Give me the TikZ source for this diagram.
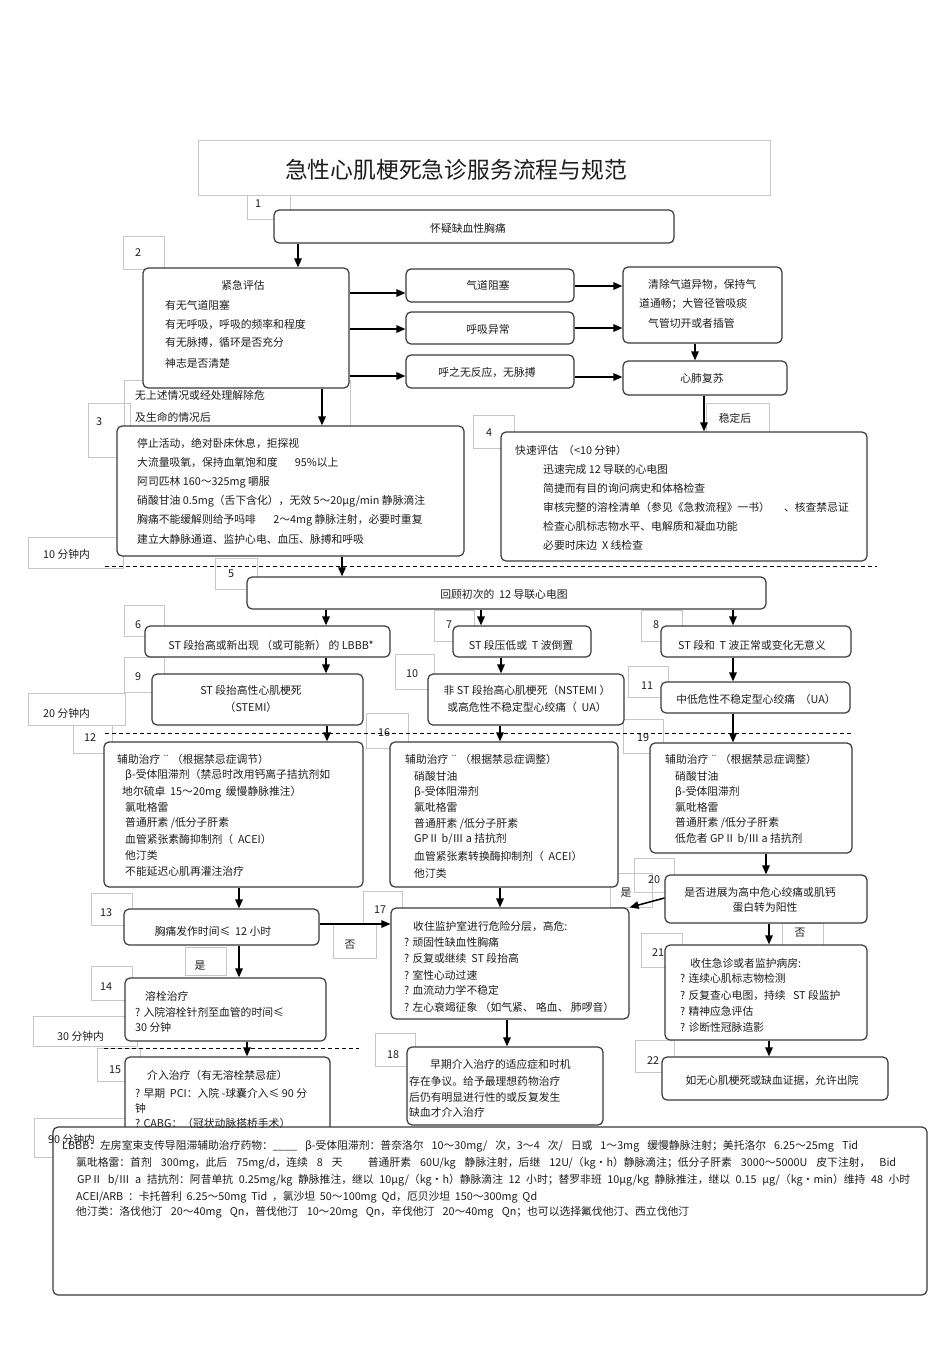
\documentclass[tikz,border=0pt]{standalone}
\usepackage{fontspec}
\setmainfont{Noto Sans CJK SC}
\usetikzlibrary{arrows.meta,fit}
\definecolor{bordc}{HTML}{3A3A3A}
\definecolor{labc}{HTML}{C6C6C6}
\definecolor{txtc}{HTML}{1E1E1E}
\tikzset{
 box/.style={draw=bordc, line width=1.2pt, rounded corners=5pt, fill=white, inner sep=0pt},
 lab/.style={draw=labc, line width=0.6pt, inner sep=0pt},
 txt/.style={font=\fontsize{10.8}{13}\selectfont, text=txtc, inner sep=0pt, anchor=west},
 txm/.style={txt, anchor=center},
 arr/.style={draw=black, line width=1.5pt, -{Triangle[length=9pt,width=7.5pt]}},
 dl/.style={draw=black, line width=0.9pt, dash pattern=on 4pt off 3pt},
}
\begin{document}
\begin{tikzpicture}[x=1pt,y=-1pt]
\useasboundingbox (0,0) rectangle (950,1345);
\fill[white] (0,0) rectangle (950,1345);
% label boxes
\foreach \n/\a/\b/\c/\d in {b1/247/195/290/219, b2/123/236/164/269, b3/88/403/130/457, bw/124/380/350/428,
 b4/473/415/514/448, bs/706/403/769/432, b10m/28/537/123/568, b5/215/558/257/589, b6/124/605/164/636,
 b7/434/610/474/641, b8/641/610/682/641, b9/124/657/164/692, b10/395/654/434/689, b11/628/666/668/697,
 b20m/28/693/125/725, b12/73/725/112/753, b16/366/713/408/748, b19/623/719/663/753, b20/634/858/674/892,
 by1/610/873/652/907, b13/91/893/132/925, b17/363/891/402/923, bn1/333/924/376/958, by2/185/947/226/975,
 b14/91/966/132/1000, bn2/782/923/823/945, b21/641/933/682/967, b30m/33/1016/137/1046, b15/97/1048/140/1081,
 b18/375/1033/415/1066, b22/635/1040/674/1072, b90m/34/1118/140/1157}
 \node[lab, fit={(\a,\b) (\c,\d)}] (\n) {};
% title
\node[lab, fit={(198,140) (770,195)}] (title) {};
% dashed time lines
\draw[dl] (105,566) -- (877,566);
\draw[dl] (105,733) -- (851,733);
\draw[dl] (104,1048) -- (359,1048);
% main boxes
\foreach \n/\a/\b/\c/\d in {n1/274/210/674/243, n2/143/268/349/388, na/406/269/574/302, nb/406/312/574/344,
 nc/406/355/574/388, nd/623/267/782/343, ne/623/361/787/395, n3/117/426/464/556, n4/501/432/867/561,
 n5/247/577/766/609, n6/145/626/390/657, n7/453/626/591/657, n8/661/626/851/657, n9/152/674/363/725,
 n10/428/674/624/725, n11/661/682/850/713, n12/104/742/363/887, n16/390/742/618/887, n19/650/743/852/853,
 n20/665/875/867/923, n13/124/909/319/945, n17/391/908/629/1019, n14/125/978/326/1041, n15/125/1057/330/1150,
 n18/407/1047/603/1125, n21/665/945/867/1040, n22/662/1057/888/1100}
 \node[box, fit={(\a,\b) (\c,\d)}] (\n) {};
% connectors
\draw[arr] (298,0 |- n1.south) -- (298,0 |- n2.north);
\draw[arr] (n2.east |- 0,293) -- (na.west |- 0,293);
\draw[arr] (n2.east |- 0,329) -- (nb.west |- 0,329);
\draw[arr] (n2.east |- 0,376) -- (nc.west |- 0,376);
\draw[arr] (na.east |- 0,286) -- (nd.west |- 0,286);
\draw[arr] (nb.east |- 0,328) -- (nd.west |- 0,328);
\draw[arr] (nc.east |- 0,377) -- (ne.west |- 0,377);
\draw[arr] (695,0 |- nd.south) -- (695,0 |- ne.north);
\draw[arr] (704,0 |- ne.south) -- (704,0 |- n4.north);
\draw[arr] (322,0 |- n2.south) -- (322,0 |- n3.north);
\draw[arr] (342,0 |- n3.south) -- (342,0 |- n5.north);
\draw[arr] (326,0 |- n5.south) -- (326,0 |- n6.north);
\draw[arr] (481,0 |- n5.south) -- (481,0 |- n7.north);
\draw[arr] (733,0 |- n5.south) -- (733,0 |- n8.north);
\draw[arr] (326,0 |- n6.south) -- (326,0 |- n9.north);
\draw[arr] (501,0 |- n7.south) -- (501,0 |- n10.north);
\draw[arr] (733,0 |- n8.south) -- (733,0 |- n11.north);
\draw[arr] (327,0 |- n9.south) -- (327,0 |- n12.north);
\draw[arr] (500,0 |- n10.south) -- (500,0 |- n16.north);
\draw[arr] (733,0 |- n11.south) -- (733,0 |- n19.north);
\draw[arr] (239,0 |- n12.south) -- (239,0 |- n13.north);
\draw[arr] (500,0 |- n16.south) -- (500,0 |- n17.north);
\draw[arr] (766,0 |- n19.south) -- (766,0 |- n20.north);
\draw[arr] (n13.east |- 0,924) -- (n17.west |- 0,924);
\draw[arr] (n20.west |- 0,898) -- (n17.north east);
\draw[arr] (239,0 |- n13.south) -- (239,0 |- n14.north);
\draw[arr] (769,0 |- n20.south) -- (769,0 |- n21.north);
\draw[arr] (507,0 |- n17.south) -- (507,0 |- n18.north);
\draw[arr] (769,0 |- n21.south) -- (769,0 |- n22.north);
\draw[arr] (247,0 |- n14.south) -- (247,0 |- n15.north);
% bottom box drawn over box 15
\node[box, fit={(53,1127) (927,1295)}] (nbot) {};
% title text
\node[font=\fontsize{22.8}{26}\selectfont, text=txtc, inner sep=0pt] (ttl) at (456,170) {急性心肌梗死急诊服务流程与规范};
% step numbers
\foreach \n/\x/\y in {1/258/204, 2/138/253, 3/99/422, 4/489/433, 5/231/574, 6/138/625, 7/449/625, 8/656/625,
 9/138/677, 10/412/674, 11/647/686, 12/90/738, 16/384/733, 19/643/738, 13/106/913, 17/380/910, 14/106/987,
 20/654/880, 21/658/953, 15/115/1070, 18/393/1055, 22/653/1061}
 \node[txm] (num\n) at (\x,\y) {\n};
% small labels
\node[txm] (lst) at (735,418) {稳定后};
\node[txt] (lw1) at (135,395) {无上述情况或经处理解除危};
\node[txt] (lw2) at (135,417) {及生命的情况后};
\node[txt] (l10) at (43,554) {10 分钟内};
\node[txt] (l20) at (43,713) {20 分钟内};
\node[txt] (l30) at (57,1036) {30 分钟内};
\node[txt] (l90) at (48,1139) {90 分钟内};
\node[txm] (ly1) at (626,893) {是};
\node[txm] (ln1) at (350,945) {否};
\node[txm] (ly2) at (200,966) {是};
\node[txm] (ln2) at (800,933) {否};
% box texts
\node[txm] (t1) at (468,228) {怀疑缺血性胸痛};
\node[txm] (t2) at (243,285) {紧急评估};
\foreach \yy/\s [count=\i] in {305/{有无气道阻塞}, 324/{有无呼吸，呼吸的频率和程度}, 343/{有无脉搏，循环是否充分}, 363/{神志是否清楚}}
 \node[txt] (t2-\i) at (165,\yy) {\s};
\node[txm] (ta) at (488,285) {气道阻塞};
\node[txm] (tb) at (488,329) {呼吸异常};
\node[txm] (tc1) at (487,372) {呼之无反应，无脉搏};
\node[txt] (td1) at (648,284) {清除气道异物，保持气};
\node[txt] (td2) at (639,304) {道通畅；大管径管吸痰};
\node[txt] (td3) at (648,323) {气管切开或者插管};
\node[txm] (te) at (702,378) {心肺复苏};
\foreach \yy/\s [count=\i] in {443/{停止活动，绝对卧床休息，拒探视}, 463/{大流量吸氧，保持血氧饱和度\hspace{1.6em}95\%以上},
 482/{阿司匹林 160～325mg 嚼服}, 501/{硝酸甘油 0.5mg（舌下含化），无效 5～20μg/min 静脉滴注},
 520/{胸痛不能缓解则给予吗啡\hspace{1.6em}2～4mg 静脉注射，必要时重复}, 539/{建立大静脉通道、监护心电、血压、脉搏和呼吸}}
 \node[txt] (t3-\i) at (137,\yy) {\s};
\node[txt] (t4-0) at (515,450) {快速评估 \ （<10 分钟）};
\foreach \yy/\s [count=\i] in {469/{迅速完成 12 导联的心电图}, 488/{简捷而有目的询问病史和体格检查},
 507/{审核完整的溶栓清单（参见《急救流程》一书）\hspace{1.3em}、核查禁忌证}, 526/{检查心肌标志物水平、电解质和凝血功能}, 545/{必要时床边 \ X 线检查}}
 \node[txt] (t4-\i) at (543,\yy) {\s};
\node[txm] (t5) at (504,594) {回顾初次的 \ 12 导联心电图};
\node[txm] (t6) at (271,645) {ST 段抬高或新出现 （或可能新） 的 LBBB*};
\node[txm] (t7) at (521,645) {ST 段压低或 \ T 波倒置};
\node[txm] (t8) at (752,645) {ST 段和 \ T 波正常或变化无意义};
\node[txm] (t9a) at (251,690) {ST 段抬高性心肌梗死};
\node[txm] (t9b) at (251,707) {（STEMI）};
\node[txm] (t10a) at (527,690) {非 ST 段抬高心肌梗死（NSTEMI ）};
\node[txm] (t10b) at (527,707) {或高危性不稳定型心绞痛（ \ UA）};
\node[txm] (t11) at (756,699) {中低危性不稳定型心绞痛 \ （UA）};
\node[txt] (t12-0) at (117,759) {辅助治疗 ¨ （根据禁忌症调节）};
\node[txt] (t12-1) at (125,775) {β-受体阻滞剂（禁忌时改用钙离子拮抗剂如};
\node[txt] (t12-2) at (122,792) {地尔硫卓 \ 15～20mg \ 缓慢静脉推注）};
\foreach \yy/\s [count=\i from 3] in {807/{氯吡格雷}, 823/{普通肝素 /低分子肝素}, 839/{血管紧张素酶抑制剂（ \ ACEI）}, 855/{他汀类}, 871/{不能延迟心肌再灌注治疗}}
 \node[txt] (t12-\i) at (125,\yy) {\s};
\node[txt] (t16-0) at (405,759) {辅助治疗 ¨ （根据禁忌症调整）};
\foreach \yy/\s [count=\i] in {776/{硝酸甘油}, 792/{β-受体阻滞剂}, 807/{氯吡格雷}, 824/{普通肝素 /低分子肝素}, 839/{GPⅡ b/Ⅲ a 拮抗剂}, 856/{血管紧张素转换酶抑制剂（ \ ACEI）}, 873/{他汀类}}
 \node[txt] (t16-\i) at (414,\yy) {\s};
\node[txt] (t19-0) at (665,759) {辅助治疗 ¨ （根据禁忌症调整）};
\foreach \yy/\s [count=\i] in {776/{硝酸甘油}, 792/{β-受体阻滞剂}, 807/{氯吡格雷}, 823/{普通肝素 /低分子肝素}, 839/{低危者 GPⅡ b/Ⅲ a 拮抗剂}}
 \node[txt] (t19-\i) at (675,\yy) {\s};
\node[txm] (t20a) at (760,892) {是否进展为高中危心绞痛或肌钙};
\node[txm] (t20b) at (765,907) {蛋白转为阳性};
\node[txm] (t13) at (213,931) {胸痛发作时间≤ \ 12 小时};
\node[txt] (t17-0) at (413,926) {收住监护室进行危险分层，高危:};
\foreach \yy/\s [count=\i] in {942/{? 顽固性缺血性胸痛}, 958/{? 反复或继续 \ ST 段抬高}, 975/{? 室性心动过速}, 990/{? 血流动力学不稳定}, 1007/{? 左心衰竭征象 （如气紧、 咯血、 肺啰音）}}
 \node[txt] (t17-\i) at (404,\yy) {\s};
\node[txt] (t14-0) at (145,996) {溶栓治疗};
\node[txt] (t14-1) at (135,1012) {? 入院溶栓针剂至血管的时间≤};
\node[txt] (t14-2) at (135,1027) {30 分钟};
\node[txt] (t15-0) at (147,1075) {介入治疗（有无溶栓禁忌症）};
\node[txt] (t15-1) at (135,1093) {? 早期 \ PCI：入院 -球囊介入≤ 90 分};
\node[txt] (t15-2) at (135,1108) {钟};
\node[txt] (t15-3) at (135,1123) {? CABG：（冠状动脉搭桥手术）};
\node[txt] (t18-0) at (430,1064) {早期介入治疗的适应症和时机};
\foreach \yy/\s [count=\i] in {1081/{存在争议。给予最理想药物治疗}, 1097/{后仍有明显进行性的或反复发生}, 1112/{缺血才介入治疗}}
 \node[txt] (t18-\i) at (409,\yy) {\s};
\node[txt] (t21-0) at (690,963) {收住急诊或者监护病房:};
\foreach \yy/\s [count=\i] in {978/{? 连续心肌标志物检测}, 995/{? 反复查心电图，持续 \ \ ST 段监护}, 1011/{? 精神应急评估}, 1027/{? 诊断性冠脉造影}}
 \node[txt] (t21-\i) at (680,\yy) {\s};
\node[txm] (t22) at (772,1080) {如无心肌梗死或缺血证据，允许出院};
% bottom notes
\node[txt] (tb1) at (62,1146) {\makebox[796pt][s]{LBBB：左房室束支传导阻滞辅助治疗药物：\_\_\_\_ β-受体阻滞剂：普奈洛尔 10～30mg/ 次，3～4 次/ 日或 1～3mg 缓慢静脉注射；美托洛尔 6.25～25mg Tid}};
\node[txt] (tb2) at (76,1163) {\makebox[820pt][s]{氯吡格雷：首剂 300mg，此后 75mg/d，连续 8 天\hspace{1.5em} 普通肝素 60U/kg 静脉注射，后继 12U/（kg·h）静脉滴注；低分子肝素 3000～5000U 皮下注射， Bid}};
\node[txt] (tb3) at (77,1180) {\makebox[833pt][s]{GPⅡ b/Ⅲ a 拮抗剂：阿昔单抗 0.25mg/kg 静脉推注，继以 10μg/（kg·h）静脉滴注 12 小时；替罗非班 10μg/kg 静脉推注，继以 0.15 μg/（kg·min）维持 48 小时}};
\node[txt] (tb4) at (76,1197) {\makebox[461pt][s]{ACEI/ARB ：卡托普利 6.25～50mg Tid ，氯沙坦 50～100mg Qd，厄贝沙坦 150～300mg Qd}};
\node[txt] (tb5) at (76,1212) {\makebox[613pt][s]{他汀类：洛伐他汀 20～40mg Qn，普伐他汀 10～20mg Qn，辛伐他汀 20～40mg Qn；也可以选择氟伐他汀、西立伐他汀}};
\end{tikzpicture}
\end{document}
